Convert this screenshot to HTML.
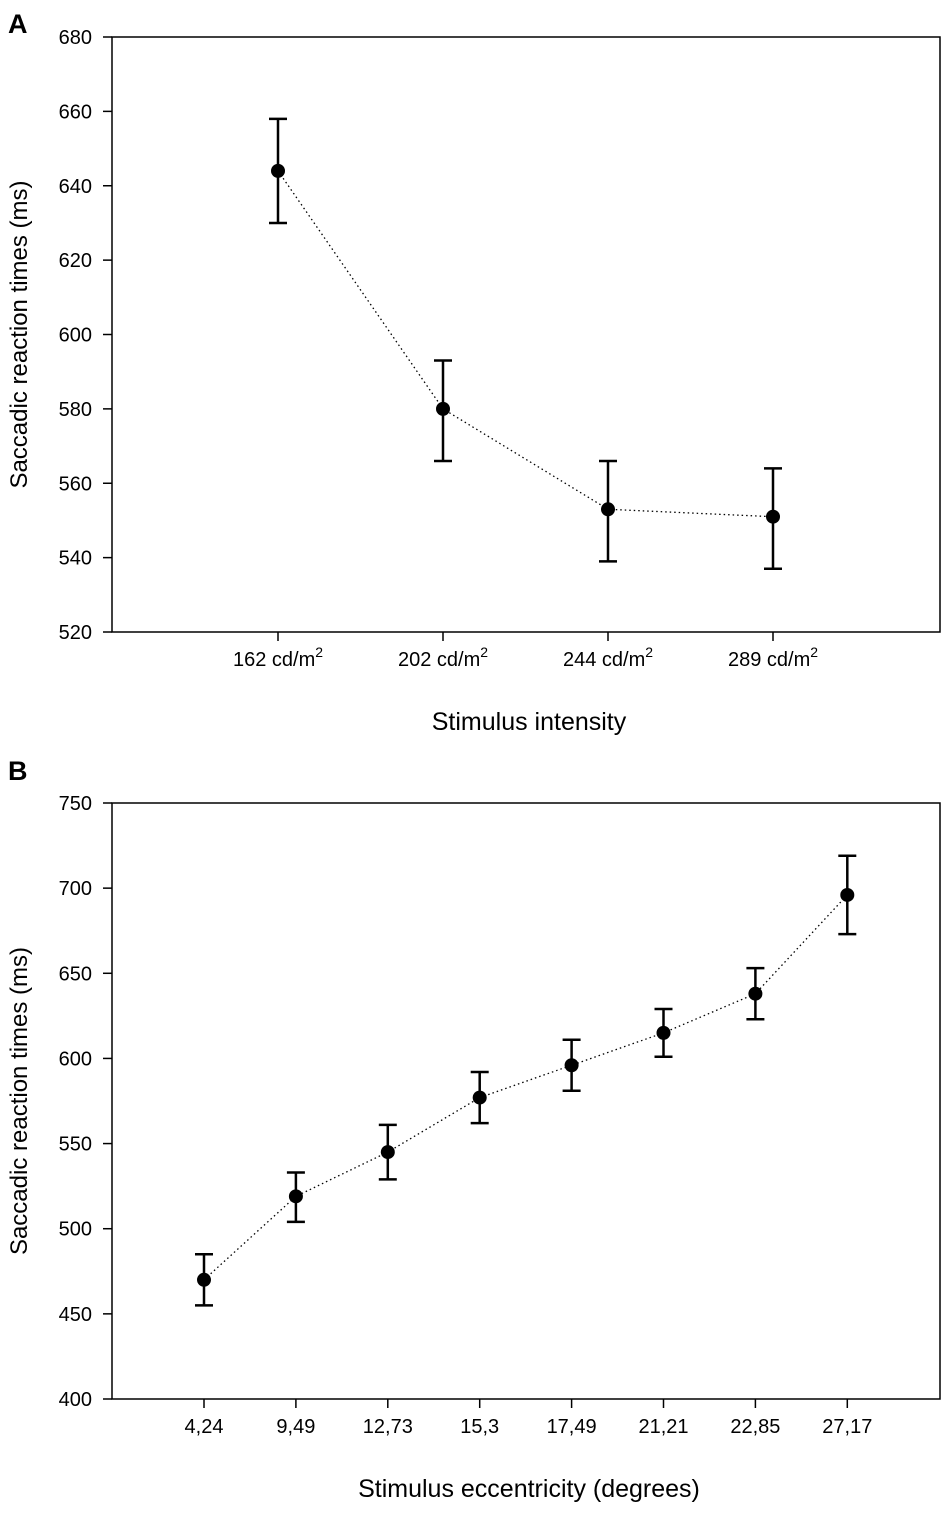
<!DOCTYPE html>
<html><head><meta charset="utf-8"><style>
body{margin:0;background:#fff}
svg text{font-family:"Liberation Sans",Arial,sans-serif;fill:#000}
</style></head><body>
<svg id="chart" width="945" height="1510" viewBox="0 0 945 1510" xmlns="http://www.w3.org/2000/svg">
<text x="8" y="33" font-size="27" font-weight="bold">A</text>
<text x="8" y="780" font-size="27" font-weight="bold">B</text>
<g id="pa"></g>
<g id="pb"></g>
</svg>
<script>
const catsA = ["162 cd/m2","202 cd/m2","244 cd/m2","289 cd/m2"];
const meanA = [644,580,553,551];
const hiA = [658,593,566,564];
const loA = [630,566,539,537];
const ticksA = [520,540,560,580,600,620,640,660,680];

const catsB = ["4,24","9,49","12,73","15,3","17,49","21,21","22,85","27,17"];
const meanB = [470,519,545,577,596,615,638,696];
const hiB = [485,533,561,592,611,629,653,719];
const loB = [455,504,529,562,581,601,623,673];
const ticksB = [400,450,500,550,600,650,700,750];

const NS="http://www.w3.org/2000/svg";
function mk(parent,tag,attrs){const e=document.createElementNS(NS,tag);for(const k in attrs)e.setAttribute(k,attrs[k]);parent.appendChild(e);return e;}

function panel(g,cfg){
  const L=112,R=940,T=cfg.top,B=cfg.bottom;
  const ymin=cfg.ticks[0],ymax=cfg.ticks[cfg.ticks.length-1];
  const y=v=>B-(v-ymin)/(ymax-ymin)*(B-T);
  const x=i=>cfg.x0+i*cfg.dx;
  const frame=mk(g,'rect',{x:L,y:T,width:R-L,height:B-T,fill:'none',stroke:'#000','stroke-width':1.5});
  
  
  cfg.ticks.forEach(t=>{
    const ln=mk(g,'line',{x1:L-9,x2:L,y1:y(t),y2:y(t),stroke:'#000','stroke-width':1.5});
    
    
    const tx=mk(g,'text',{x:L-20,y:y(t)+7,'font-size':20,'text-anchor':'end'});
    tx.textContent=t;
    
    
  });
  cfg.cats.forEach((c,i)=>{
    const ln=mk(g,'line',{x1:x(i),x2:x(i),y1:B,y2:B+9,stroke:'#000','stroke-width':1.5});
    
    
    const tx=mk(g,'text',{x:x(i),y:B+34,'font-size':20,'text-anchor':'middle'});
    if(c.endsWith('m2')){tx.textContent=c.slice(0,-1);const s=mk(tx,'tspan',{dy:-9,'font-size':14});s.textContent='2';}
    else tx.textContent=c;
    
    
  });
  const pts=cfg.mean.map((v,i)=>x(i)+','+y(v)).join(' ');
  const pl=mk(g,'polyline',{points:pts,fill:'none',stroke:'#000','stroke-width':1.3,'stroke-dasharray':'1.5 3'});
  
  
  cfg.mean.forEach((v,i)=>{
    const eb=mk(g,'path',{d:`M${x(i)} ${y(cfg.lo[i])}V${y(cfg.hi[i])}M${x(i)-9} ${y(cfg.hi[i])}h18M${x(i)-9} ${y(cfg.lo[i])}h18`,stroke:'#000','stroke-width':2.5,fill:'none'});
    
    
    const c=mk(g,'circle',{cx:x(i),cy:y(v),r:7,fill:'#000'});
    
    
  });
  const yt=mk(g,'text',{x:0,y:0,'font-size':24,'text-anchor':'middle',transform:`translate(27 ${(T+B)/2}) rotate(-90)`});
  yt.textContent='Saccadic reaction times (ms)';
  
  
  const xt=mk(g,'text',{x:cfg.xtx,y:cfg.xty,'font-size':25,'text-anchor':'middle'});
  xt.textContent=cfg.xtitle;
  
  
}
panel(document.getElementById('pa'),{top:37,bottom:632,ticks:ticksA,cats:catsA,mean:meanA,hi:hiA,lo:loA,x0:278,dx:165,xtitle:'Stimulus intensity',xtx:529,xty:730});
panel(document.getElementById('pb'),{top:803,bottom:1399,ticks:ticksB,cats:catsB,mean:meanB,hi:hiB,lo:loB,x0:204,dx:91.9,xtitle:'Stimulus eccentricity (degrees)',xtx:529,xty:1497});
</script>
</body></html>
